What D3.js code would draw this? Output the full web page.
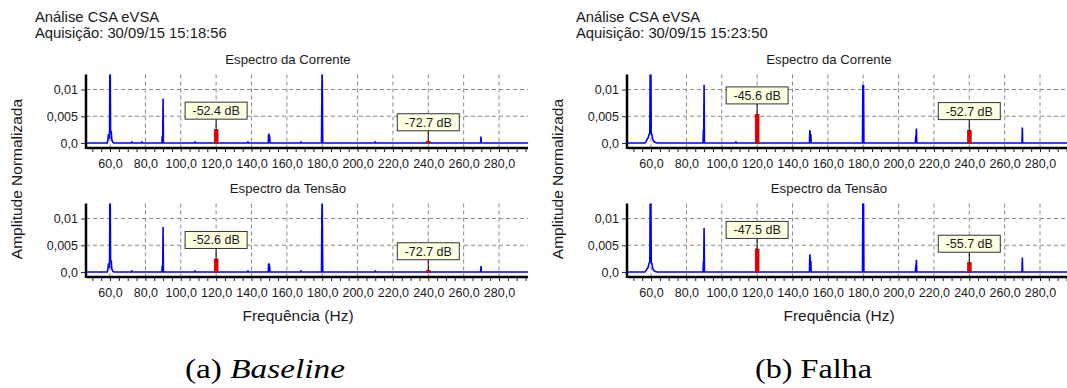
<!DOCTYPE html>
<html>
<head>
<meta charset="utf-8">
<script src="https://cdn.jsdelivr.net/npm/d3@7"></script>
<style>
  body { margin: 0; background: #fff; }
  svg { display: block; }
  text { font-family: "Liberation Sans", Arial, sans-serif; fill: #1a1a1a; }
</style>
</head>
<body>
<svg id="fig" width="1067" height="388"></svg>
<script>
// Frequency axis (Hz) and amplitude axis ticks
const freqTicks = [60, 80, 100, 120, 140, 160, 180, 200, 220, 240, 260, 280];
const freqTickLabels = ["60,0", "80,0", "100,0", "120,0", "140,0", "160,0", "180,0", "200,0", "220,0", "240,0", "260,0", "280,0"];
const ampTicks = [0, 0.005, 0.01];
const ampTickLabels = ["0,0", "0,005", "0,01"];

// Panel headers
const headerTitle = "Análise CSA eVSA";
const acquisitions = ["Aquisição: 30/09/15 15:18:56", "Aquisição: 30/09/15 15:23:50"];
const captions = [["(a) ", "Baseline", true], ["(b) ", "Falha", false]];
const spectrumTitles = ["Espectro da Corrente", "Espectro da Tensão"];

// Spectra: [frequency (Hz), normalized amplitude]
const baselineCurrent = [
  [46.4, 0], [58.4, 0], [58.8, 0.0006], [59.1, 0.0016], [59.5, 0.0017], [59.7, 0.0008],
  [59.9, 0.0135], [60.1, 0.0135], [60.3, 0.0021], [60.7, 0.0021], [61.0, 0.0006], [61.5, 0.0002], [62.2, 0],
  [72.1, 0], [72.3, 0.0003], [72.5, 0], [77.8, 0], [78.0, 0.0003], [78.2, 0],
  [89.3, 0], [89.5, 0.0012], [89.8, 0.0012], [90.0, 0.0083], [90.2, 0],
  [107.8, 0], [108.0, 0.0003], [108.2, 0], [137.8, 0], [138.0, 0.0003], [138.2, 0],
  [149.5, 0], [149.7, 0.0017], [150.0, 0.0015], [150.3, 0.0011], [150.5, 0],
  [167.8, 0], [168.0, 0.0003], [168.2, 0],
  [179.6, 0], [179.8, 0.0095], [180.0, 0.0135], [180.3, 0],
  [209.8, 0], [210.0, 0.0003], [210.2, 0],
  [269.6, 0], [269.8, 0.0012], [270.0, 0], [296.4, 0]
];
const baselineVoltage = [
  [46.4, 0], [58.4, 0], [58.8, 0.0005], [59.1, 0.0015], [59.5, 0.0016], [59.7, 0.0008],
  [59.9, 0.0135], [60.1, 0.0135], [60.3, 0.0020], [60.7, 0.0020], [61.0, 0.0006], [61.5, 0.0002], [62.2, 0],
  [72.1, 0], [72.3, 0.0003], [72.5, 0],
  [89.3, 0], [89.5, 0.0010], [89.8, 0.0010], [90.0, 0.0084], [90.2, 0],
  [107.8, 0], [108.0, 0.0003], [108.2, 0], [137.8, 0], [138.0, 0.0003], [138.2, 0],
  [149.5, 0], [149.7, 0.0016], [150.0, 0.0014], [150.3, 0.0010], [150.5, 0],
  [167.8, 0], [168.0, 0.0003], [168.2, 0],
  [179.6, 0], [179.8, 0.0105], [180.0, 0.0135], [180.3, 0],
  [209.8, 0], [210.0, 0.0003], [210.2, 0],
  [269.6, 0], [269.8, 0.0011], [270.0, 0], [296.4, 0]
];
const faultCurrent = [
  [46.4, 0], [56.6, 0], [57.2, 0.0003], [57.8, 0.0007], [58.4, 0.0010], [58.9, 0.0016], [59.3, 0.0018],
  [59.5, 0.0135], [59.9, 0.0135], [60.1, 0.0017], [60.5, 0.0016], [60.9, 0.0008], [61.5, 0.0003], [62.5, 0.0001], [63.4, 0],
  [89.4, 0], [89.6, 0.0023], [89.8, 0.0023], [90.0, 0.0109], [90.2, 0],
  [107.8, 0], [108.0, 0.0003], [108.2, 0],
  [149.6, 0], [149.8, 0.0024], [150.1, 0.0015], [150.4, 0.0015], [150.6, 0],
  [179.6, 0], [179.8, 0.0107], [180.2, 0.0107], [180.4, 0],
  [209.5, 0], [209.7, 0.0012], [209.9, 0.0012], [210.1, 0.0027], [210.3, 0],
  [269.8, 0], [270.0, 0.0029], [270.2, 0], [296.4, 0]
];
const faultVoltage = [
  [46.4, 0], [56.6, 0], [57.2, 0.0003], [57.8, 0.0006], [58.4, 0.0009], [58.9, 0.0017], [59.3, 0.0018],
  [59.5, 0.0135], [59.9, 0.0135], [60.1, 0.0017], [60.5, 0.0016], [60.9, 0.0007], [61.5, 0.0003], [62.5, 0.0001], [63.4, 0],
  [89.4, 0], [89.6, 0.0018], [89.8, 0.0018], [90.0, 0.0082], [90.2, 0],
  [149.6, 0], [149.8, 0.0033], [150.1, 0.0019], [150.4, 0.0019], [150.6, 0],
  [179.6, 0], [179.8, 0.0135], [180.2, 0.0135], [180.4, 0],
  [209.5, 0], [209.7, 0.0010], [209.9, 0.0010], [210.1, 0.0023], [210.3, 0],
  [269.8, 0], [270.0, 0.0027], [270.2, 0], [296.4, 0]
];

// Marked harmonics (frequency, level in dB relative to the fundamental)
const baselineCurrentMarks = [{ freq: 120, db: -52.4 }, { freq: 240, db: -72.7 }];
const baselineVoltageMarks = [{ freq: 120, db: -52.6 }, { freq: 240, db: -72.7 }];
const faultCurrentMarks = [{ freq: 120, db: -45.6 }, { freq: 240, db: -52.7 }];
const faultVoltageMarks = [{ freq: 120, db: -47.5 }, { freq: 240, db: -55.7 }];

const columns = [
  { acq: acquisitions[0], caption: captions[0], capX: 265, capW: 160, panels: [[baselineCurrent, baselineCurrentMarks], [baselineVoltage, baselineVoltageMarks]] },
  { acq: acquisitions[1], caption: captions[1], capX: 272.5, capW: 117, panels: [[faultCurrent, faultCurrentMarks], [faultVoltage, faultVoltageMarks]] }
];

const svg = d3.select("#fig");
const colWidth = 541;
const panelStep = 129;

const x = d3.scaleLinear().domain([46.4, 296.4]).range([86, 528]);
const yBase = d3.scaleLinear().domain([0, 0.0128]).range([143, 74.5]);

const fmtDb = d => d.toFixed(1) + " dB";

columns.forEach((col, ci) => {
  const g = svg.append("g").attr("transform", `translate(${ci * colWidth},0)`);

  g.append("text").attr("x", 35).attr("y", 22).style("font-size", "14.8px").text(headerTitle);
  g.append("text").attr("x", 35).attr("y", 38).style("font-size", "14.8px").text(col.acq);

  // vertical axis title
  g.append("text")
    .attr("transform", "translate(22,179) rotate(-90)")
    .attr("text-anchor", "middle")
    .style("font-size", "15.5px")
    .text("Amplitude Normalizada");

  col.panels.forEach(([series, marks], pi) => {
    const dy = pi * panelStep;
    const y = yBase.copy().range(yBase.range().map(v => v + dy));
    const p = g.append("g");
    const [x0, x1] = x.range();
    const yTop = y.range()[1];
    const yZero = y(0);
    const axisY = yZero + 5;

    p.append("text")
      .attr("x", 288).attr("y", yTop - 11)
      .attr("text-anchor", "middle")
      .style("font-size", "13.2px")
      .text(spectrumTitles[pi]);

    // dashed grid
    p.append("g").selectAll("line").data(freqTicks).join("line")
      .attr("x1", d => x(d)).attr("x2", d => x(d))
      .attr("y1", yTop).attr("y2", axisY)
      .attr("stroke", "#8a8a8a").attr("stroke-width", 1).attr("stroke-dasharray", "4,3");
    p.append("g").selectAll("line").data(ampTicks.filter(d => d > 0)).join("line")
      .attr("x1", x0).attr("x2", x1)
      .attr("y1", d => y(d)).attr("y2", d => y(d))
      .attr("stroke", "#8a8a8a").attr("stroke-width", 1).attr("stroke-dasharray", "4,3");

    // amplitude axis
    const ya = p.append("g").attr("transform", `translate(${x0},0)`)
      .call(d3.axisLeft(y).tickValues(ampTicks).tickFormat((d, i) => ampTickLabels[i]).tickSize(5).tickPadding(3));
    ya.select(".domain").remove();
    ya.selectAll(".tick line").attr("stroke", "#333");
    ya.selectAll(".tick text").style("font-size", "12.5px").style("font-family", "Liberation Sans, Arial, sans-serif").attr("fill", "#1a1a1a");

    // frequency axis: minor ticks every 5 Hz, labels every 20 Hz
    const xm = p.append("g").attr("transform", `translate(0,${axisY})`)
      .call(d3.axisBottom(x).tickValues(d3.range(50, 296, 5)).tickSize(4).tickFormat(""));
    xm.select(".domain").remove();
    xm.selectAll(".tick line").attr("stroke", "#222");
    const xa = p.append("g").attr("transform", `translate(0,${axisY})`)
      .call(d3.axisBottom(x).tickValues(freqTicks).tickFormat((d, i) => freqTickLabels[i]).tickSize(0).tickPadding(11));
    xa.select(".domain").remove();
    xa.selectAll(".tick text").style("font-size", "12.5px").style("font-family", "Liberation Sans, Arial, sans-serif").attr("fill", "#1a1a1a");

    p.append("line").attr("x1", x0).attr("x2", x0).attr("y1", yTop).attr("y2", axisY + 1)
      .attr("stroke", "#000").attr("stroke-width", 2.5);
    p.append("line").attr("x1", x0 + 1).attr("x2", x1).attr("y1", axisY).attr("y2", axisY)
      .attr("stroke", "#000").attr("stroke-width", 2.5);

    // spectrum trace, clipped to the plot area
    const clipId = `clip-${ci}-${pi}`;
    p.append("clipPath").attr("id", clipId).append("rect")
      .attr("x", x0).attr("y", yTop).attr("width", x1 - x0).attr("height", yZero - yTop + 2);
    p.append("path").datum(series)
      .attr("clip-path", `url(#${clipId})`)
      .attr("d", d3.line().x(d => x(d[0])).y(d => y(d[1])))
      .attr("fill", "none").attr("stroke", "#0000ff").attr("stroke-width", 1.6);

    // highlighted harmonics with value boxes
    marks.forEach(m => {
      const amp = Math.pow(10, m.db / 20);
      const cx = x(m.freq);
      const top = y(amp);
      p.append("rect").attr("x", cx - 2).attr("y", top - 0.5).attr("width", 4).attr("height", Math.max(yZero - top, 1.5) + 1)
        .attr("fill", "#e00000").attr("stroke", "#b00000").attr("stroke-width", 0.5);
      const bw = 62, bh = 17, by = top - 11 - bh;
      p.append("line").attr("x1", cx).attr("x2", cx).attr("y1", by + bh).attr("y2", top)
        .attr("stroke", "#000").attr("stroke-width", 1);
      p.append("rect").attr("x", cx - bw / 2).attr("y", by).attr("width", bw).attr("height", bh)
        .attr("fill", "#ffffe1").attr("stroke", "#333").attr("stroke-width", 1);
      p.append("text").attr("x", cx).attr("y", by + bh / 2 + 4.5)
        .attr("text-anchor", "middle").style("font-size", "12.5px").text(fmtDb(m.db));
    });
  });

  g.append("text")
    .attr("x", 298).attr("y", 321)
    .attr("text-anchor", "middle")
    .style("font-size", "15.5px")
    .text("Frequência (Hz)");

  // sub-figure caption
  const cap = g.append("text")
    .attr("x", col.capX - col.capW / 2).attr("y", 378)
    .attr("textLength", col.capW).attr("lengthAdjust", "spacingAndGlyphs")
    .style("font-family", "'Liberation Serif', 'Times New Roman', serif")
    .style("font-size", "27px").style("fill", "#000");
  cap.append("tspan").text(col.caption[0]);
  cap.append("tspan").style("font-style", col.caption[2] ? "italic" : "normal").text(col.caption[1]);
});
</script>
</body>
</html>
